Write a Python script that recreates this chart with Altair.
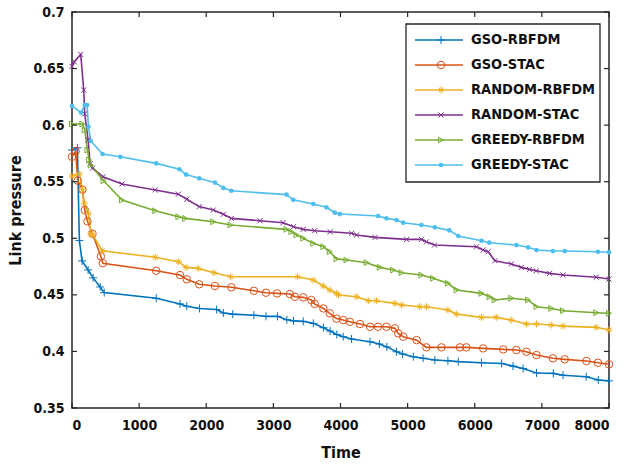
import altair as alt
import pandas as pd

names = ["GSO-RBFDM", "GSO-STAC", "RANDOM-RBFDM", "RANDOM-STAC", "GREEDY-RBFDM", "GREEDY-STAC"]
colors = ["#0072BD", "#D95319", "#EDB120", "#7E2F8E", "#77AC30", "#4DBEEE"]

gso_rbfdm_x = [0, 80, 110, 150, 240, 315, 420, 480, 1255, 1610, 1710, 1900, 2155, 2255, 2395, 2710, 2890, 3060, 3200, 3300, 3445, 3595, 3745, 3845, 3945, 4040, 4165, 4440, 4580, 4690, 4835, 4925, 5085, 5230, 5405, 5600, 5755, 6100, 6400, 6570, 6720, 6920, 7170, 7315, 7660, 7840, 8000]
gso_rbfdm_y = [0.578, 0.58, 0.498, 0.48, 0.472, 0.465, 0.457, 0.452, 0.447, 0.442, 0.44, 0.438, 0.437, 0.434, 0.433, 0.432, 0.431, 0.431, 0.428, 0.427, 0.4266, 0.4248, 0.421, 0.418, 0.415, 0.413, 0.411, 0.4086, 0.4065, 0.404, 0.3997, 0.3977, 0.3953, 0.394, 0.3924, 0.3918, 0.391, 0.39, 0.3894, 0.387, 0.385, 0.381, 0.3806, 0.379, 0.3776, 0.3747, 0.374]

gso_stac_x = [0, 55, 85, 155, 190, 230, 305, 430, 460, 1255, 1610, 1710, 1895, 2130, 2375, 2710, 2890, 3055, 3245, 3320, 3445, 3565, 3615, 3745, 3840, 3940, 4040, 4140, 4290, 4440, 4560, 4685, 4810, 4860, 4935, 5135, 5280, 5505, 5780, 5875, 6125, 6425, 6620, 6770, 6920, 7165, 7340, 7665, 7835, 8000]
gso_stac_y = [0.572, 0.577, 0.551, 0.543, 0.525, 0.515, 0.504, 0.484, 0.478, 0.4713, 0.4675, 0.4637, 0.4593, 0.4578, 0.4567, 0.4536, 0.4519, 0.4513, 0.4507, 0.4483, 0.4478, 0.4454, 0.442, 0.438, 0.4337, 0.429, 0.4277, 0.4262, 0.4242, 0.4218, 0.4218, 0.4218, 0.4204, 0.416, 0.413, 0.41, 0.4036, 0.4036, 0.4036, 0.4036, 0.4027, 0.4018, 0.4012, 0.3997, 0.3968, 0.3939, 0.393, 0.3915, 0.39, 0.3886]

random_rbfdm_x = [0, 110, 155, 185, 245, 280, 310, 450, 1240, 1585, 1700, 1880, 2115, 2365, 3360, 3595, 3745, 3840, 3940, 3970, 4240, 4415, 4535, 4810, 4910, 5180, 5280, 5600, 5725, 6100, 6320, 6545, 6770, 6920, 7140, 7315, 7810, 8000]
random_rbfdm_y = [0.555, 0.557, 0.543, 0.531, 0.522, 0.504, 0.503, 0.489, 0.4832, 0.4793, 0.4743, 0.4734, 0.4696, 0.466, 0.466, 0.4631, 0.4578, 0.4543, 0.4513, 0.4499, 0.4483, 0.4448, 0.4448, 0.4425, 0.441, 0.4395, 0.4395, 0.4366, 0.433, 0.4301, 0.4301, 0.4277, 0.4242, 0.4242, 0.4233, 0.4224, 0.4213, 0.419]

random_stac_x = [0, 35, 130, 175, 190, 240, 270, 305, 460, 745, 1240, 1585, 1710, 1895, 2105, 2255, 2375, 2800, 3145, 3300, 3445, 3615, 3845, 4165, 4240, 4515, 4985, 5205, 5280, 5400, 6025, 6125, 6200, 6300, 6545, 6695, 6815, 6915, 7115, 7315, 7810, 8000]
random_stac_y = [0.652, 0.656, 0.6625, 0.631, 0.61, 0.587, 0.566, 0.562, 0.5544, 0.548, 0.5427, 0.539, 0.5345, 0.528, 0.525, 0.5212, 0.5176, 0.5155, 0.5138, 0.5102, 0.5079, 0.5067, 0.5058, 0.5044, 0.5029, 0.5008, 0.499, 0.499, 0.4969, 0.494, 0.4925, 0.4896, 0.4881, 0.4802, 0.4773, 0.4743, 0.4725, 0.4713, 0.469, 0.4675, 0.4655, 0.464]

greedy_rbfdm_x = [0, 155, 190, 230, 255, 280, 470, 745, 1240, 1585, 1685, 2105, 2360, 3195, 3270, 3345, 3445, 3595, 3745, 3840, 3940, 4090, 4390, 4585, 4785, 4910, 5205, 5380, 5600, 5730, 6100, 6220, 6295, 6545, 6795, 6920, 7140, 7315, 7810, 8000]
greedy_rbfdm_y = [0.601, 0.601, 0.5957, 0.578, 0.5692, 0.5647, 0.5508, 0.5338, 0.5243, 0.519, 0.5176, 0.5146, 0.5117, 0.5079, 0.5058, 0.5029, 0.5, 0.4955, 0.4925, 0.4881, 0.4818, 0.4808, 0.4784, 0.4743, 0.4719, 0.4696, 0.4675, 0.4646, 0.4602, 0.4543, 0.4513, 0.4483, 0.4455, 0.447, 0.4455, 0.4395, 0.438, 0.436, 0.4342, 0.4337]

greedy_stac_x = [0, 135, 190, 225, 245, 280, 455, 720, 1255, 1600, 1700, 1895, 2130, 2255, 2375, 3195, 3295, 3595, 3790, 3915, 3990, 4560, 4685, 4835, 4935, 5205, 5405, 5620, 5755, 6100, 6215, 6620, 6795, 6920, 7165, 7340, 7835, 8000]
greedy_stac_y = [0.617, 0.611, 0.6178, 0.6178, 0.5986, 0.586, 0.5745, 0.572, 0.5662, 0.561, 0.5563, 0.553, 0.5492, 0.5445, 0.542, 0.5386, 0.534, 0.5303, 0.5274, 0.5226, 0.5214, 0.5197, 0.5176, 0.5161, 0.5138, 0.5117, 0.5097, 0.507, 0.502, 0.4978, 0.4961, 0.494, 0.492, 0.4896, 0.4887, 0.4887, 0.4881, 0.4876]

x_ticks = [0, 1000, 2000, 3000, 4000, 5000, 6000, 7000, 8000]
y_ticks = [0.35, 0.4, 0.45, 0.5, 0.55, 0.6, 0.65, 0.7]

series_xy = [
    (gso_rbfdm_x, gso_rbfdm_y), (gso_stac_x, gso_stac_y),
    (random_rbfdm_x, random_rbfdm_y), (random_stac_x, random_stac_y),
    (greedy_rbfdm_x, greedy_rbfdm_y), (greedy_stac_x, greedy_stac_y),
]
rows = []
for name, (xs, ys) in zip(names, series_xy):
    for i, (xv, yv) in enumerate(zip(xs, ys)):
        rows.append({"series": name, "x": xv, "y": yv, "i": i})
df = pd.DataFrame(rows)

FONT = "Liberation Sans Narrow, Arial Narrow, DejaVu Sans Condensed, Liberation Sans"
INK = "#262626"
W, H = 537, 396

shape_paths = [
    "M-1,0L1,0M0,-1L0,1",
    "circle",
    "M-1,0L1,0M0,-1L0,1M-0.7,-0.7L0.7,0.7M-0.7,0.7L0.7,-0.7",
    "M-0.8,-0.8L0.8,0.8M-0.8,0.8L0.8,-0.8",
    "triangle-right",
    "circle",
]
sizes = [64, 26, 90, 56, 34, 20]

color_scale = alt.Scale(domain=names, range=colors)
shape_scale = alt.Scale(domain=names, range=shape_paths)
size_scale = alt.Scale(domain=names, range=sizes)

xs = alt.Scale(domain=[0, 8000], nice=False)
ys = alt.Scale(domain=[0.35, 0.7], nice=False, zero=False)

x_enc = alt.X("x:Q", scale=xs, axis=alt.Axis(
    values=x_ticks, format="d", title="Time", tickSize=0, domain=False, grid=False,
    labelFont=FONT, labelFontSize=14, labelFontWeight="bold", labelColor="#111",
    labelPadding=10, titleFont=FONT, titleFontSize=16, titleFontWeight="bold",
    titleColor="#111", titlePadding=12))
y_enc = alt.Y("y:Q", scale=ys, axis=alt.Axis(
    values=y_ticks, format="~g", title="Link pressure", tickSize=0, domain=False, grid=False,
    labelFont=FONT, labelFontSize=14, labelFontWeight="bold", labelColor="#111",
    labelPadding=8, titleFont=FONT, titleFontSize=16, titleFontWeight="bold",
    titleColor="#111", titlePadding=9))

base = alt.Chart(df)
lines = base.mark_line(strokeWidth=1.6).encode(
    x=x_enc, y=y_enc,
    color=alt.Color("series:N", scale=color_scale, legend=None),
    detail="series:N", order="i:Q")
pts_open = base.transform_filter(alt.datum.series != "GREEDY-STAC").mark_point(
    filled=False, strokeWidth=1.0, opacity=1).encode(
    x="x:Q", y="y:Q",
    color=alt.Color("series:N", scale=color_scale, legend=None),
    shape=alt.Shape("series:N", scale=shape_scale, legend=None),
    size=alt.Size("series:N", scale=size_scale, legend=None))
pts_fill = base.transform_filter(alt.datum.series == "GREEDY-STAC").mark_point(
    filled=True, opacity=1, shape="circle", size=22).encode(
    x="x:Q", y="y:Q",
    color=alt.Color("series:N", scale=color_scale, legend=None))

xt = pd.DataFrame({"x": x_ticks})
yt = pd.DataFrame({"y": y_ticks})
tick_b = alt.Chart(xt).mark_rule(color=INK, strokeWidth=1.2).encode(
    x="x:Q", y=alt.value(H), y2=alt.value(H - 5))
tick_t = alt.Chart(xt).mark_rule(color=INK, strokeWidth=1.2).encode(
    x="x:Q", y=alt.value(0), y2=alt.value(5))
tick_l = alt.Chart(yt).mark_rule(color=INK, strokeWidth=1.2).encode(
    y="y:Q", x=alt.value(0), x2=alt.value(5))
tick_r = alt.Chart(yt).mark_rule(color=INK, strokeWidth=1.2).encode(
    y="y:Q", x=alt.value(W), x2=alt.value(W - 5))

main = alt.layer(lines, pts_open, pts_fill, tick_b, tick_t, tick_l, tick_r)

# legend built from the series names
leg_df = pd.DataFrame({
    "series": names,
    "row": list(range(len(names))),
    "label": ["\u00a0" + names[0]] + names[1:],
})
leg_y = alt.Y("row:Q", scale=alt.Scale(domain=[0, 5], range=[28, 153]), axis=None)
leg_box = alt.Chart(pd.DataFrame({"a": [0]})).mark_rect(
    fill="white", stroke=INK, strokeWidth=1.3).encode(
    x=alt.value(334), x2=alt.value(528), y=alt.value(12), y2=alt.value(170))
leg_base = alt.Chart(leg_df)
leg_rule = leg_base.mark_rule(strokeWidth=1.6).encode(
    x=alt.value(343), x2=alt.value(391), y=leg_y,
    color=alt.Color("series:N", scale=color_scale, legend=None))
leg_pts = leg_base.transform_filter(alt.datum.series != "GREEDY-STAC").mark_point(
    filled=False, strokeWidth=1.0, opacity=1).encode(
    x=alt.value(369), y=leg_y,
    color=alt.Color("series:N", scale=color_scale, legend=None),
    shape=alt.Shape("series:N", scale=shape_scale, legend=None),
    size=alt.Size("series:N", scale=size_scale, legend=None))
leg_fill = leg_base.transform_filter(alt.datum.series == "GREEDY-STAC").mark_point(
    filled=True, opacity=1, shape="circle", size=22).encode(
    x=alt.value(369), y=leg_y,
    color=alt.Color("series:N", scale=color_scale, legend=None))
leg_text = leg_base.mark_text(
    align="left", baseline="middle", font=FONT, fontSize=14.5, fontWeight="bold",
    color="#111").encode(x=alt.value(399), y=leg_y, text="label:N")

legend = alt.layer(leg_box, leg_rule, leg_pts, leg_fill, leg_text)

chart = alt.layer(main, legend).resolve_scale(y="independent").properties(
    width=W, height=H,
    autosize=alt.AutoSizeParams(type="none"),
    padding={"left": 72, "top": 12, "right": 19, "bottom": 62},
    background="white",
).configure_view(stroke=INK, strokeWidth=1.5)

chart.save("out.html", embed_options={"renderer": "svg", "actions": False})
